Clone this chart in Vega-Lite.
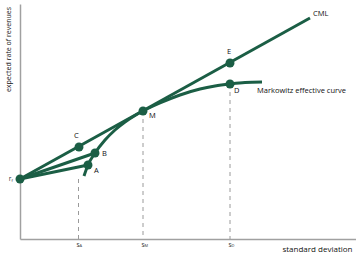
{
  "$schema": "https://vega.github.io/schema/vega-lite/v6.json",
  "autosize": "none",
  "width": 336,
  "height": 235,
  "padding": {"left": 20, "top": 4, "right": 0, "bottom": 21},
  "background": "white",
  "config": {"view": {"stroke": null}, "font": "Open Sans"},
  "datasets": {
    "lines": [
      {"series": "CML", "sd": 0, "ret": 6.0},
      {"series": "CML", "sd": 29.0, "ret": 22.1},
      {"series": "rfA", "sd": 0, "ret": 6.0},
      {"series": "rfA", "sd": 6.8, "ret": 7.4},
      {"series": "rfB", "sd": 0, "ret": 6.0},
      {"series": "rfB", "sd": 7.5, "ret": 8.6},
      {"series": "Markowitz", "sd": 6.4, "ret": 6.3},
      {"series": "Markowitz", "sd": 6.8, "ret": 7.4},
      {"series": "Markowitz", "sd": 7.5, "ret": 8.6},
      {"series": "Markowitz", "sd": 8.5, "ret": 9.9},
      {"series": "Markowitz", "sd": 9.5, "ret": 10.9},
      {"series": "Markowitz", "sd": 10.5, "ret": 11.7},
      {"series": "Markowitz", "sd": 11.5, "ret": 12.35},
      {"series": "Markowitz", "sd": 12.3, "ret": 12.8},
      {"series": "Markowitz", "sd": 14.0, "ret": 13.6},
      {"series": "Markowitz", "sd": 16.0, "ret": 14.4},
      {"series": "Markowitz", "sd": 18.0, "ret": 15.0},
      {"series": "Markowitz", "sd": 19.5, "ret": 15.3},
      {"series": "Markowitz", "sd": 21.0, "ret": 15.5},
      {"series": "Markowitz", "sd": 22.5, "ret": 15.65},
      {"series": "Markowitz", "sd": 24.2, "ret": 15.7}
    ],
    "points": [
      {"name": "rf", "sd": 0, "ret": 6.0},
      {"name": "A", "sd": 6.8, "ret": 7.4},
      {"name": "B", "sd": 7.5, "ret": 8.6},
      {"name": "C", "sd": 5.9, "ret": 9.2},
      {"name": "M", "sd": 12.3, "ret": 12.8},
      {"name": "E", "sd": 21.0, "ret": 17.6},
      {"name": "D", "sd": 21.0, "ret": 15.5}
    ],
    "rules": [
      {"sd": 5.85, "top": 6.0, "bottom": 0},
      {"sd": 12.3, "top": 12.8, "bottom": 0},
      {"sd": 21.0, "top": 15.5, "bottom": 0}
    ],
    "labels": [
      {"sd": 29.3, "ret": 22.5, "text": "CML"},
      {"sd": 20.7, "ret": 18.7, "text": "E"},
      {"sd": 21.4, "ret": 14.8, "text": "D"},
      {"sd": 12.9, "ret": 12.3, "text": "M"},
      {"sd": 5.4, "ret": 10.3, "text": "C"},
      {"sd": 8.2, "ret": 8.5, "text": "B"},
      {"sd": 7.4, "ret": 6.8, "text": "A"},
      {"sd": 23.7, "ret": 14.8, "text": "Markowitz effective curve"}
    ],
    "ticks": [
      {"sd": 5.8, "ret": -0.55, "main": "s", "sub": "A"},
      {"sd": 12.3, "ret": -0.55, "main": "s", "sub": "M"},
      {"sd": 21.0, "ret": -0.55, "main": "s", "sub": "D"},
      {"sd": -1.0, "ret": 6.0, "main": "r", "sub": "f"}
    ]
  },
  "encoding": {
    "x": {"field": "sd", "type": "quantitative", "scale": {"domain": [0, 33.6], "nice": false, "zero": false}},
    "y": {"field": "ret", "type": "quantitative", "scale": {"domain": [0, 23.5], "nice": false, "zero": false}}
  },
  "layer": [
    {
      "data": {"name": "rules"},
      "mark": {"type": "rule", "color": "#9a9a9a", "strokeWidth": 1, "strokeDash": [4, 4]},
      "encoding": {
        "x": {"field": "sd", "type": "quantitative", "axis": {"domain": true, "domainColor": "#a0a0a0", "domainWidth": 1.5, "ticks": false, "labels": false, "grid": false, "title": "standard deviation", "titleFontSize": 8, "titleFontWeight": "normal", "titleColor": "#111", "titleAnchor": "end", "titleAlign": "right", "titleX": 332, "titleY": 10, "titleBaseline": "middle"}},
        "y": {"field": "top", "type": "quantitative", "axis": {"domain": true, "domainColor": "#a0a0a0", "domainWidth": 1.5, "ticks": false, "labels": false, "grid": false, "title": "expected rate of revenues", "titleFontSize": 7, "titleFontWeight": "normal", "titleColor": "#111", "titleAngle": -90, "titleAlign": "center", "titleBaseline": "middle", "titleX": -12, "titleY": 45}},
        "y2": {"field": "bottom"}
      }
    },
    {
      "data": {"name": "lines"},
      "mark": {"type": "line", "color": "#1b5e45", "strokeWidth": 3, "interpolate": "monotone", "strokeCap": "butt"},
      "encoding": {"detail": {"field": "series"}, "order": {"field": "sd"}}
    },
    {
      "data": {"name": "points"},
      "mark": {"type": "circle", "color": "#1b5e45", "opacity": 1, "size": 80}
    },
    {
      "data": {"name": "labels"},
      "mark": {"type": "text", "align": "left", "baseline": "middle", "fontSize": 7.5, "fontWeight": 500, "color": "#111"},
      "encoding": {"text": {"field": "text"}}
    },
    {
      "data": {"name": "ticks"},
      "mark": {"type": "text", "align": "center", "baseline": "middle", "fontSize": 6.5, "color": "#333"},
      "encoding": {"text": {"field": "main"}}
    },
    {
      "data": {"name": "ticks"},
      "mark": {"type": "text", "align": "left", "baseline": "middle", "fontSize": 4, "color": "#333", "dx": 1.5, "dy": 1.5},
      "encoding": {"text": {"field": "sub"}}
    }
  ]
}
